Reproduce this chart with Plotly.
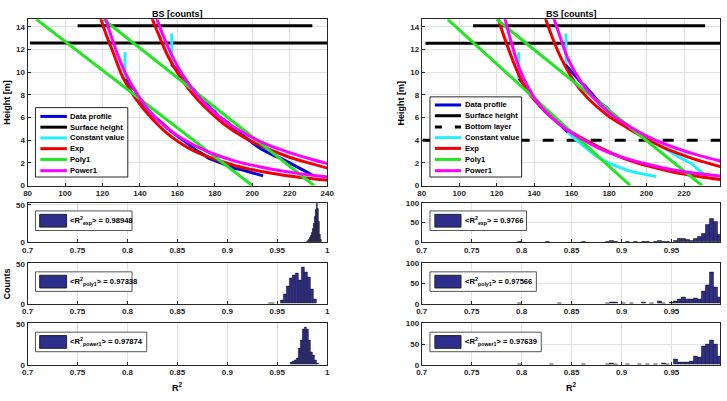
import plotly.graph_objects as go

W, H = 727, 401
FONT = "Liberation Sans, Arial, sans-serif"

# ---------------- data: left panel ----------------
L_blue1_x = [132, 133.5, 134.4, 135.5, 137.4, 138.5, 140, 141.8, 143.5, 146.1, 148, 150.5, 153, 155.8, 158, 161, 163, 166.3, 170, 173.3, 176.8, 180, 183.9, 187, 190.9, 194, 198, 202, 205.8]
L_blue1_y = [9.4, 9.25, 8.9, 8.7, 8.4, 8.0, 7.6, 7.1, 6.8, 6.3, 6.0, 5.7, 5.3, 4.9, 4.6, 4.2, 4.0, 3.6, 3.1, 2.8, 2.4, 2.2, 1.95, 1.7, 1.5, 1.4, 1.2, 1.05, 0.85]
L_blue2_x = [156.7, 158, 159.3, 161, 163.7, 165.4, 167, 169, 171, 173.3, 175.5, 177.7, 180, 182.1, 185, 187.4, 190.5, 194.4, 198, 201.4, 205, 208.4, 212, 215.4, 219, 222.5, 226, 229, 232.1]
L_blue2_y = [10.7, 10.5, 10.3, 10.0, 9.5, 9.1, 8.7, 8.4, 8.0, 7.7, 7.3, 6.8, 6.5, 6.1, 5.8, 5.5, 5.0, 4.5, 4.0, 3.6, 3.2, 2.9, 2.6, 2.4, 2.1, 1.8, 1.5, 1.2, 0.9]
L_surf1_x = [81.2, 240]
L_surf1_y = [12.56, 12.56]
L_surf2_x = [106.7, 232.1]
L_surf2_y = [14.08, 14.08]
L_const1_x = [132, 132]
L_const1_y = [9.4, 11.75]
L_const2_x = [157, 157]
L_const2_y = [10.7, 13.4]
L_exp1_x = [118.5, 122, 126, 131, 138, 147, 156, 166, 177, 191, 208, 226, 241]
L_exp1_y = [15.0, 13.3, 11.6, 9.5, 7.6, 5.8, 4.4, 3.3, 2.5, 1.75, 1.15, 0.7, 0.45]
L_exp2_x = [145.8, 150, 155, 161, 168, 176, 185, 195, 206, 218, 230, 241]
L_exp2_y = [15.0, 13.3, 11.4, 9.7, 8.1, 6.7, 5.4, 4.3, 3.4, 2.6, 2.0, 1.5]
L_poly1_x = [84.7, 200.0]
L_poly1_y = [14.65, 0.0]
L_poly2_x = [120.5, 233.0]
L_poly2_y = [14.65, 0.0]
L_pow1_x = [121.2, 124, 128, 132, 138, 146, 155, 165, 176, 190, 207, 225, 241]
L_pow1_y = [15.0, 13.5, 11.6, 10.0, 8.2, 6.4, 5.0, 3.9, 3.0, 2.2, 1.55, 1.05, 0.75]
L_pow2_x = [148.3, 152, 157, 163, 170, 178, 187, 197, 208, 220, 232, 241]
L_pow2_y = [15.0, 13.4, 11.5, 9.7, 8.1, 6.7, 5.5, 4.5, 3.6, 2.9, 2.3, 1.9]

# ---------------- data: right panel ----------------
R_blue1_x = [131.8, 133, 134.5, 136.5, 138, 139.5, 141, 143, 145.5, 148, 150.5, 153, 155.5, 158]
R_blue1_y = [9.45, 9.2, 8.9, 8.6, 8.3, 7.8, 7.5, 7.1, 6.7, 6.2, 5.9, 5.5, 5.1, 4.7]
R_blue2_x = [156.5, 158, 160, 162, 163.5, 165.5, 167, 169, 170.4, 172, 173.9, 176, 179.1, 181, 182.6, 185, 187.8, 190, 193, 196.5]
R_blue2_y = [10.7, 10.4, 10.1, 9.6, 9.4, 9.0, 8.8, 8.4, 8.2, 7.8, 7.5, 7.2, 6.8, 6.4, 6.2, 5.8, 5.5, 5.2, 4.9, 4.6]
R_surf1_x = [82, 240]
R_surf1_y = [12.55, 12.55]
R_surf2_x = [107.4, 231.3]
R_surf2_y = [14.08, 14.08]
R_bottom_x = [80.5, 240]
R_bottom_y = [4.0, 4.0]
R_const1_x = [131.8, 131.8]
R_const1_y = [9.45, 11.75]
R_const2_x = [157, 157]
R_const2_y = [10.7, 13.4]
R_const3_x = [158, 160, 162.5, 165.2, 168, 170.4, 173, 175.7, 179, 182.6, 186, 189.6, 193, 196.5, 201, 205.2]
R_const3_y = [4.7, 4.35, 4.0, 3.65, 3.25, 2.9, 2.6, 2.35, 2.05, 1.8, 1.55, 1.35, 1.2, 1.06, 0.92, 0.8]
R_const4_x = [196.5, 200, 203.5, 207, 210.4, 214, 217.4, 221, 224.3, 227, 229.6, 231]
R_const4_y = [4.6, 4.2, 3.85, 3.5, 3.2, 2.85, 2.5, 2.2, 1.9, 1.5, 1.1, 0.95]
R_exp1_x = [120.5, 122.2, 125.2, 130.4, 135.7, 140.9, 147.8, 156.5, 165.2, 175.7, 187.8, 200, 213.9, 227.8, 241]
R_exp1_y = [15.0, 14.0, 12.55, 10.3, 8.5, 7.4, 6.2, 5.1, 4.2, 3.3, 2.4, 1.75, 1.2, 0.8, 0.5]
R_exp2_x = [145.5, 149.6, 154.8, 161.7, 168.7, 179.1, 189.6, 200, 210.4, 224.3, 241]
R_exp2_y = [15.0, 13.1, 11.1, 9.1, 7.7, 6.2, 5.1, 4.1, 3.25, 2.4, 1.6]
R_poly1_x = [93.9, 191.3]
R_poly1_y = [14.65, 0.0]
R_poly2_x = [120.0, 229.6]
R_poly2_y = [14.65, 0.0]
R_pow1_x = [124, 127, 132.2, 137, 142, 148, 156, 165, 175, 186, 200, 217, 241]
R_pow1_y = [15.0, 13.1, 10.3, 8.6, 7.3, 6.2, 5.1, 4.15, 3.25, 2.55, 1.9, 1.3, 0.8]
R_pow2_x = [150, 153.9, 158.3, 165.2, 172, 181, 191, 202, 214, 227, 241]
R_pow2_y = [15.0, 13.1, 11.1, 9.1, 7.7, 6.3, 5.2, 4.2, 3.4, 2.7, 2.1]

# ---------------- data: histograms ----------------
L_hexp_bins = [0.980, 0.981, 0.982, 0.983, 0.984, 0.985, 0.986, 0.987, 0.988, 0.989, 0.990, 0.991, 0.992, 0.993, 0.994]
L_hexp_counts = [1, 2, 4, 6, 9, 13, 18, 25, 34, 44, 51, 45, 28, 10, 3]
L_hpoly_bins = [0.943, 0.946, 0.955, 0.958, 0.961, 0.964, 0.967, 0.970, 0.973, 0.976, 0.979, 0.982, 0.985, 0.988]
L_hpoly_counts = [1, 1, 4, 12, 22, 32, 36, 38, 30, 46, 40, 33, 18, 6]
L_hpow_bins = [0.964, 0.966, 0.968, 0.970, 0.972, 0.974, 0.976, 0.978, 0.980, 0.982, 0.984, 0.986, 0.988, 0.990]
L_hpow_counts = [3, 4, 5, 8, 20, 30, 44, 46, 44, 30, 15, 12, 5, 2]

R_hexp_bins = [0.798, 0.826, 0.862, 0.886, 0.890, 0.894, 0.906, 0.914, 0.922, 0.926, 0.934, 0.938, 0.942, 0.946, 0.954, 0.958, 0.962, 0.966, 0.970, 0.974, 0.978, 0.982, 0.986, 0.990, 0.994, 0.998]
R_hexp_counts = [1, 1, 1, 2, 3, 2, 1, 1, 2, 1, 2, 3, 2, 1, 5, 9, 10, 7, 5, 9, 14, 22, 45, 60, 52, 18]
R_hpoly_bins = [0.798, 0.838, 0.886, 0.890, 0.894, 0.902, 0.910, 0.922, 0.930, 0.938, 0.942, 0.950, 0.954, 0.958, 0.962, 0.966, 0.970, 0.974, 0.978, 0.982, 0.986, 0.990, 0.994, 0.998]
R_hpoly_counts = [1, 1, 2, 3, 3, 1, 1, 3, 1, 6, 2, 3, 5, 10, 15, 12, 12, 13, 12, 30, 45, 78, 40, 15]
R_hpow_bins = [0.798, 0.830, 0.862, 0.886, 0.890, 0.894, 0.906, 0.918, 0.926, 0.934, 0.942, 0.946, 0.954, 0.958, 0.962, 0.966, 0.970, 0.974, 0.978, 0.982, 0.986, 0.990, 0.994, 0.998]
R_hpow_counts = [1, 1, 1, 2, 3, 2, 1, 1, 2, 2, 3, 2, 12, 6, 6, 6, 8, 20, 18, 45, 50, 58, 50, 20]

main_xticks = [80, 100, 120, 140, 160, 180, 200, 220, 240]
main_yticks = [0, 2, 4, 6, 8, 10, 12, 14]
hist_xticks = [0.7, 0.75, 0.8, 0.85, 0.9, 0.95, 1.0]
hist_xticklabels = ["0.7", "0.75", "0.8", "0.85", "0.9", "0.95", "1"]

leg_left = ["Data profile", "Surface height", "Constant value", "Exp", "Poly1", "Power1"]
leg_right = ["Data profile", "Surface height", "Bottom layer", "Constant value", "Exp", "Poly1", "Power1"]
hist_labels_left = ["&lt;R<sup>2</sup><sub>exp</sub>&gt; = 0.98948",
                    "&lt;R<sup>2</sup><sub>poly1</sub>&gt; = 0.97338",
                    "&lt;R<sup>2</sup><sub>power1</sub>&gt; = 0.97874"]
hist_labels_right = ["&lt;R<sup>2</sup><sub>exp</sub>&gt; = 0.9766",
                     "&lt;R<sup>2</sup><sub>poly1</sub>&gt; = 0.97566",
                     "&lt;R<sup>2</sup><sub>power1</sub>&gt; = 0.97639"]

# ---------------- styles ----------------
C_BLUE = "#0000e0"
C_BLACK = "#000000"
C_CYAN = "#22eeff"
C_RED = "#ee0000"
C_GREEN = "#22e622"
C_MAG = "#ff00ff"
C_BAR = "#2e2e8c"
AXC = "#262626"
LW = 3


def X(px):
    return px / W


def Y(py):
    return 1 - py / H


fig = go.Figure()


def line(xs, ys, color, ax, ay, shape="linear", dash="solid", width=LW):
    fig.add_trace(go.Scatter(x=xs, y=ys, mode="lines", xaxis=ax, yaxis=ay, showlegend=False,
                             hoverinfo="skip",
                             line=dict(color=color, width=width, shape=shape, dash=dash)))


# left main
line(L_blue1_x, L_blue1_y, C_BLUE, "x", "y")
line(L_blue2_x, L_blue2_y, C_BLUE, "x", "y")
line(L_surf1_x, L_surf1_y, C_BLACK, "x", "y")
line(L_surf2_x, L_surf2_y, C_BLACK, "x", "y")
line(L_const1_x, L_const1_y, C_CYAN, "x", "y")
line(L_const2_x, L_const2_y, C_CYAN, "x", "y")
line(L_exp1_x, L_exp1_y, C_RED, "x", "y", "spline")
line(L_exp2_x, L_exp2_y, C_RED, "x", "y", "spline")
line(L_poly1_x, L_poly1_y, C_GREEN, "x", "y")
line(L_poly2_x, L_poly2_y, C_GREEN, "x", "y")
line(L_pow1_x, L_pow1_y, C_MAG, "x", "y", "spline")
line(L_pow2_x, L_pow2_y, C_MAG, "x", "y", "spline")

# right main
line(R_blue1_x, R_blue1_y, C_BLUE, "x2", "y2")
line(R_blue2_x, R_blue2_y, C_BLUE, "x2", "y2")
line(R_surf1_x, R_surf1_y, C_BLACK, "x2", "y2")
line(R_surf2_x, R_surf2_y, C_BLACK, "x2", "y2")
line(R_bottom_x, R_bottom_y, C_BLACK, "x2", "y2", dash="11px,13px")
line(R_const1_x, R_const1_y, C_CYAN, "x2", "y2")
line(R_const2_x, R_const2_y, C_CYAN, "x2", "y2")
line(R_const3_x, R_const3_y, C_CYAN, "x2", "y2")
line(R_const4_x, R_const4_y, C_CYAN, "x2", "y2")
line(R_exp1_x, R_exp1_y, C_RED, "x2", "y2", "spline")
line(R_exp2_x, R_exp2_y, C_RED, "x2", "y2", "spline")
line(R_poly1_x, R_poly1_y, C_GREEN, "x2", "y2")
line(R_poly2_x, R_poly2_y, C_GREEN, "x2", "y2")
line(R_pow1_x, R_pow1_y, C_MAG, "x2", "y2", "spline")
line(R_pow2_x, R_pow2_y, C_MAG, "x2", "y2", "spline")


def bars(bins, counts, width, ax, ay):
    fig.add_trace(go.Bar(x=bins, y=counts, width=width, xaxis=ax, yaxis=ay, showlegend=False,
                         hoverinfo="skip",
                         marker=dict(color=C_BAR, line=dict(color="#111111", width=0.5))))


bars(L_hexp_bins, L_hexp_counts, 0.001, "x3", "y3")
bars(L_hpoly_bins, L_hpoly_counts, 0.003, "x4", "y4")
bars(L_hpow_bins, L_hpow_counts, 0.002, "x5", "y5")
bars(R_hexp_bins, R_hexp_counts, 0.004, "x6", "y6")
bars(R_hpoly_bins, R_hpoly_counts, 0.004, "x7", "y7")
bars(R_hpow_bins, R_hpow_counts, 0.004, "x8", "y8")

# ---------------- axes ----------------
tickfont = dict(family=FONT, size=8, color=AXC, weight="bold")
common = dict(showline=True, mirror=True, linecolor=AXC, linewidth=1, ticks="inside", ticklen=3,
              tickcolor=AXC, showgrid=True, gridcolor="#e2e2e2", gridwidth=1, zeroline=False,
              tickfont=tickfont)

LX = [X(22), X(327)]
RX = [X(423.3), 1.0]
R_main_max = 80 + (727 - 423.3) / 305.2 * 160
R_hist_max = 0.7 + (727 - 423.3) / 305.2 * 0.3

D_main = [Y(185.7), Y(15.7)]
D_h1 = [Y(243.7), Y(203.3)]
D_h2 = [Y(306.7), Y(265.3)]
D_h3 = [Y(369), Y(326.7)]

layout = dict(
    width=W, height=H, margin=dict(l=0, r=0, t=0, b=0),
    paper_bgcolor="white", plot_bgcolor="white", bargap=0,
    xaxis=dict(domain=LX, range=[80, 240], tickvals=main_xticks, anchor="y", **common),
    yaxis=dict(domain=D_main, range=[0, 14.65], tickvals=main_yticks, anchor="x", **common),
    xaxis2=dict(domain=RX, range=[80, R_main_max], tickvals=main_xticks, anchor="y2", **common),
    yaxis2=dict(domain=D_main, range=[0, 14.65], tickvals=main_yticks, anchor="x2", **common),
)
hist_axes = [
    (3, LX, D_h1, [0, 53], [0, 50], 1.0),
    (4, LX, D_h2, [0, 51], [0, 50], 1.0),
    (5, LX, D_h3, [0, 51], [0, 50], 1.0),
    (6, RX, D_h1, [0, 100], [0, 50, 100], R_hist_max),
    (7, RX, D_h2, [0, 100], [0, 50, 100], R_hist_max),
    (8, RX, D_h3, [0, 100], [0, 50, 100], R_hist_max),
]
for n, dx, dy, yr, yt, xmax in hist_axes:
    layout[f"xaxis{n}"] = dict(domain=dx, range=[0.7, xmax], tickvals=hist_xticks, ticktext=hist_xticklabels,
                               anchor=f"y{n}", **common)
    layout[f"yaxis{n}"] = dict(domain=dy, range=yr, tickvals=yt, anchor=f"x{n}", **common)

shapes = []
annotations = []


def text(px, py, s, size=8, xanchor="left", angle=0):
    annotations.append(dict(xref="paper", yref="paper", x=X(px), y=Y(py), text=s, showarrow=False,
                            xanchor=xanchor, yanchor="middle", textangle=angle, borderpad=0,
                            font=dict(family=FONT, size=size, color="#000000", weight="bold")))


def legend(box, rows, sx, tx, entries):
    x0, y0, x1, y1 = box
    shapes.append(dict(type="rect", xref="paper", yref="paper", x0=X(x0), x1=X(x1), y0=Y(y1), y1=Y(y0),
                       fillcolor="white", line=dict(color=AXC, width=1), layer="above"))
    for (lab, col, dash), ry in zip(entries, rows):
        shapes.append(dict(type="line", xref="paper", yref="paper", x0=X(sx[0]), x1=X(sx[1]), y0=Y(ry), y1=Y(ry),
                           line=dict(color=col, width=LW, dash=dash), layer="above"))
        text(tx, ry, lab, size=7.6)


left_cols = [C_BLUE, C_BLACK, C_CYAN, C_RED, C_GREEN, C_MAG]
left_dash = ["solid"] * 6
right_cols = [C_BLUE, C_BLACK, C_BLACK, C_CYAN, C_RED, C_GREEN, C_MAG]
right_dash = ["solid", "solid", "7px,13px", "solid", "solid", "solid", "solid"]

legend((30, 106, 124, 177), [115, 126, 137, 148, 159, 170.5], (35, 62), 64,
       list(zip(leg_left, left_cols, left_dash)))
legend((431.7, 95, 525, 177), [103.3, 114.3, 125.7, 136.7, 147.7, 159, 170.5], (436.7, 463.3), 466,
       list(zip(leg_right, right_cols, right_dash)))


def hist_legend(x0, x1, yc, px0, px1, tx, lab):
    shapes.append(dict(type="rect", xref="paper", yref="paper", x0=X(x0), x1=X(x1), y0=Y(yc + 10), y1=Y(yc - 10),
                       fillcolor="white", line=dict(color="#555555", width=1), layer="above"))
    shapes.append(dict(type="rect", xref="paper", yref="paper", x0=X(px0), x1=X(px1), y0=Y(yc + 6.5), y1=Y(yc - 6.5),
                       fillcolor=C_BAR, line=dict(color="#222222", width=1), layer="above"))
    text(tx, yc, lab, size=7.6)


for lab, yc, x1 in zip(hist_labels_left, [221.7, 284, 345.7], [128.3, 128.3, 143.3]):
    hist_legend(30, x1, yc, 34.3, 61.7, 64, lab)
for lab, yc, x1 in zip(hist_labels_right, [221.7, 284, 345.7], [530, 540, 545]):
    hist_legend(431.7, x1, yc, 436.7, 463.3, 466, lab)

# titles and axis labels
text(174.5, 10, "BS [counts]", size=9, xanchor="center")
text(576, 10, "BS [counts]", size=9, xanchor="center")
text(1, 100, "Height [m]", size=9, xanchor="center", angle=-90)
text(402, 101, "Height [m]", size=9, xanchor="center", angle=-90)
text(1, 286, "Counts", size=9, xanchor="center", angle=-90)
text(174.5, 391.5, "R<sup>2</sup>", size=9, xanchor="center")
text(576, 391.5, "R<sup>2</sup>", size=9, xanchor="center")

layout["shapes"] = shapes
layout["annotations"] = annotations
fig.update_layout(**layout)

fig.write_html("out.html")
